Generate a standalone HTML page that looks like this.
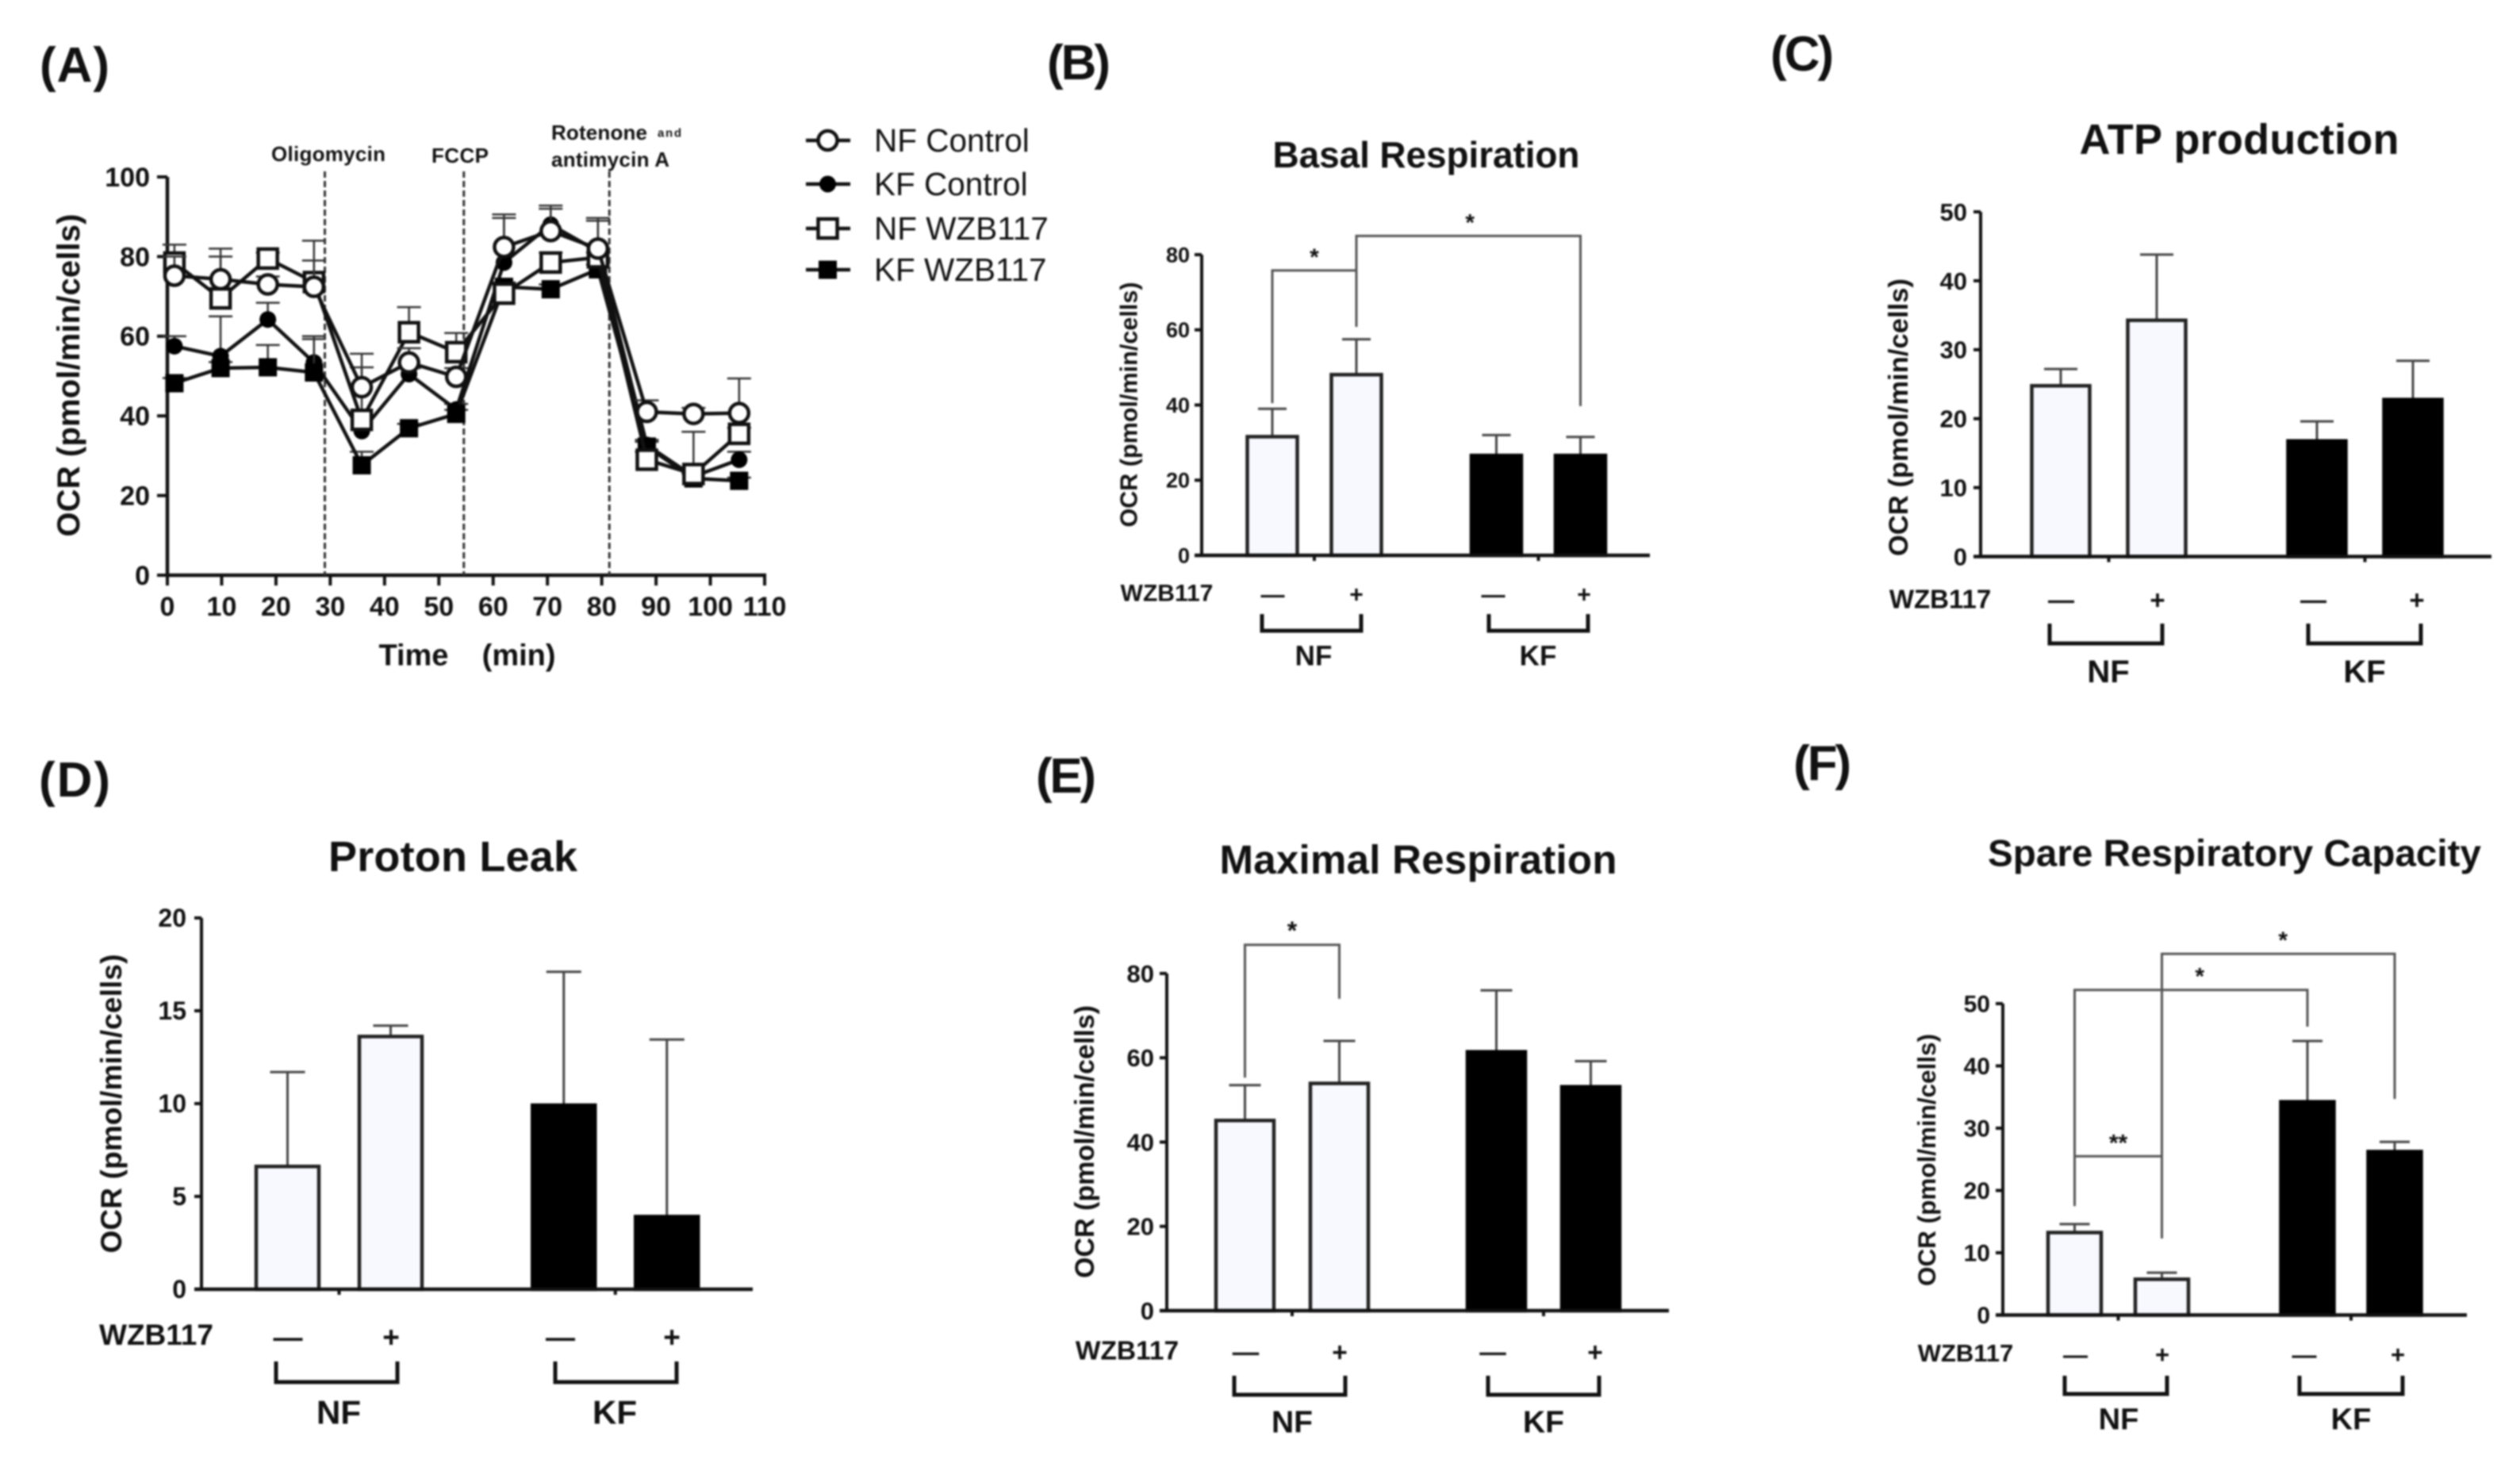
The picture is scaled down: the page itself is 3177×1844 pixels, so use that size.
<!DOCTYPE html>
<html lang="en">
<head>
<meta charset="utf-8">
<title>OCR respiration panels</title>
<style>
html,body{margin:0;padding:0;background:#fff;width:3177px;height:1844px;overflow:hidden}
svg{display:block;filter:blur(1px);font-family:"Liberation Sans",Arial,sans-serif}
text{fill:#111}
.b{font-weight:bold}
</style>
</head>
<body>
<svg id="fig" xmlns="http://www.w3.org/2000/svg" width="3177" height="1844" viewBox="0 0 3177 1844">
  <rect width="3177" height="1844" fill="#fff"/>
  <text class="b" x="50" y="103" font-size="62" textLength="88">(A)</text>
  <text class="b" x="1320" y="100" font-size="62" textLength="80">(B)</text>
  <text class="b" x="2232" y="89" font-size="62" textLength="80">(C)</text>
  <text class="b" x="49" y="1004" font-size="62" textLength="90">(D)</text>
  <text class="b" x="1306" y="999" font-size="62" textLength="76">(E)</text>
  <text class="b" x="2261" y="983" font-size="62" textLength="73">(F)</text>
  <g id="panelA"></g>
  <g id="legend"></g>
  <g id="bars"></g>
</svg>
<script>
/* ---------- Panel A data ---------- */
const timeMinutes = [1.3, 9.8, 18.5, 27, 35.8, 44.5, 53.2, 62, 70.6, 79.3, 88.3, 96.9, 105.3];
const nfControl = [75.2, 74.3, 73, 72.4, 47.2, 53.4, 49.8, 82.4, 86.4, 82, 41, 40.5, 40.7];
const kfControl = [57.5, 55, 64.2, 53.4, 36.2, 50.5, 41.6, 78.5, 88, 81.3, 32.7, 24.8, 29];
const nfWzb = [78.5, 69.5, 79.5, 73.6, 39, 61, 56, 70.7, 78.5, 79.8, 29, 25.4, 35.5];
const kfWzb = [48.2, 52, 52.2, 50.9, 27.6, 36.9, 40.5, 72.4, 71.8, 76.8, 32.3, 24.3, 23.7];
const nfControlTop = [80, 82, 75, 79, 55.6, 57, 52, 90.6, 92, 89, 43.9, 42, 49.4];
const kfControlTop = [60, 65, 68.4, 59.3, 40, 52, 43, 89.7, 92.8, 89.7, 34, 26, 31];
const nfWzbTop = [83, 80, 81, 84, 52.2, 67.3, 60.8, 73, 81, 81, 31, 36, 37];
const kfWzbTop = [49.5, 53.5, 57.8, 60, 31, 38, 41.5, 73.5, 73, 78, 33.5, 25.5, 24.5];
const timeTicks = [0, 10, 20, 30, 40, 50, 60, 70, 80, 90, 100, 110];
const ocrTicksA = [0, 20, 40, 60, 80, 100];
const injectionTimes = [29, 54.6, 81.4];

/* ---------- Bar panel data ---------- */
const barCategories = ["NF-", "NF+", "KF-", "KF+"];
const basalMeans = [32, 48.5, 27, 27];
const basalTops = [39, 57.5, 32, 31.5];
const basalTicks = [0, 20, 40, 60, 80];
const atpMeans = [25, 34.5, 17, 23];
const atpTops = [27.2, 43.8, 19.6, 28.4];
const atpTicks = [0, 10, 20, 30, 40, 50];
const leakMeans = [6.7, 13.7, 10, 4];
const leakTops = [11.7, 14.2, 17.1, 13.45];
const leakTicks = [0, 5, 10, 15, 20];
const maxMeans = [45.5, 54.3, 61.8, 53.5];
const maxTops = [53.5, 64, 76, 59.2];
const maxTicks = [0, 20, 40, 60, 80];
const spareMeans = [13.5, 6, 34.5, 26.5];
const spareTops = [14.6, 6.8, 44, 27.8];
const spareTicks = [0, 10, 20, 30, 40, 50];
/* significance: from bar, to bar, level, from-value, to-value, label */
const basalSig = [[0, 1, 75.8, 40.5, 72.4, "*"], [1, 3, 85, 60.8, 39.7, "*"]];
const atpSig = [];
const leakSig = [];
const maxSig = [[0, 1, 86.8, 55.3, 74, "*"]];
const spareSig = [[0, 2, 52.2, 17.5, 46.3, "*"], [1, 3, 58, 12.3, 34.7, "*"], [0, 1, 25.5, 17.5, 12.3, "**"]];

const SVGNS = "http://www.w3.org/2000/svg";
function line(parent, x1, y1, x2, y2, w, color) {
  const e = document.createElementNS(SVGNS, "line");
  e.setAttribute("x1", x1); e.setAttribute("y1", y1);
  e.setAttribute("x2", x2); e.setAttribute("y2", y2);
  e.setAttribute("stroke", color || "#111");
  e.setAttribute("stroke-width", w);
  parent.appendChild(e);
  return e;
}
function label(parent, str, x, y, size, anchor, bold, len) {
  const e = document.createElementNS(SVGNS, "text");
  e.textContent = str;
  e.setAttribute("x", x); e.setAttribute("y", y);
  e.setAttribute("font-size", size);
  e.setAttribute("text-anchor", anchor || "middle");
  e.setAttribute("dy", "0.35em");
  if (bold !== false) e.setAttribute("font-weight", "bold");
  if (len) e.setAttribute("textLength", len);
  parent.appendChild(e);
  return e;
}
function marker(parent, kind, cx, cy) {
  let e;
  if (kind === "circle-open" || kind === "circle-fill") {
    e = document.createElementNS(SVGNS, "circle");
    e.setAttribute("cx", cx); e.setAttribute("cy", cy);
    e.setAttribute("r", kind === "circle-open" ? 12 : 10.5);
  } else {
    const s = kind === "square-open" ? 24 : 23;
    e = document.createElementNS(SVGNS, "rect");
    e.setAttribute("x", cx - s / 2); e.setAttribute("y", cy - s / 2);
    e.setAttribute("width", s); e.setAttribute("height", s);
  }
  const open = kind.indexOf("open") >= 0;
  e.setAttribute("fill", open ? "#fff" : "#000");
  e.setAttribute("stroke", open ? "#111" : "none");
  e.setAttribute("stroke-width", open ? 4.5 : 0);
  parent.appendChild(e);
  return e;
}

/* ---------- Panel A ---------- */
(function () {
  const g = document.getElementById("panelA");
  const X = t => 211 + (t - 0) * (964 - 211) / 110;
  const Y = v => 725 - v * (725 - 223) / 100;
  ocrTicksA.forEach(v => {
    const t = line(g, 198, Y(v), 211, Y(v), 4);
    
    
    const l = label(g, String(v), 189, Y(v), 34, "end");
    
    
  });
  timeTicks.forEach(v => {
    const t = line(g, X(v), 725, X(v), 738, 4);
    
    
    const l = label(g, String(v), X(v), 764, 34);
    
    
  });
  const ya = line(g, X(0), Y(100), X(0), Y(0) + 2, 4.5);
  
  
  const xa = line(g, X(0) - 2, Y(0), X(110) + 2, Y(0), 4.5);
  
  
  const yt = label(g, "OCR (pmol/min/cells)", 0, 0, 40, "middle", true, 407);
  yt.setAttribute("transform", "translate(86 473) rotate(-90)");
  
  
  const xt = label(g, "Time    (min)", 589, 825, 38, "middle", true);
  xt.setAttribute("style", "white-space:pre");
  
  

  injectionTimes.forEach((t0, i) => {
    const d = line(g, X(t0), 216, X(t0), 725, 3, "#333");
    d.setAttribute("stroke-dasharray", "8 4");
    
    
  });
  const t1 = label(g, "Oligomycin", 414, 194, 26, "middle", true, 144);
  
  
  const t2 = label(g, "FCCP", 580, 196, 26, "middle", true, 72);
  
  
  const t3 = label(g, "Rotenone", 695, 167, 26, "start", true, 121);
  
  
  const t4 = label(g, "and", 829, 167, 15, "start", true, 30);
  
  
  const t5 = label(g, "antimycin A", 695, 201, 26, "start", true, 149);
  
  

  const series = [
    ["kf-control", kfControl, kfControlTop, "circle-fill"],
    ["kf-wzb117", kfWzb, kfWzbTop, "square-fill"],
    ["nf-wzb117", nfWzb, nfWzbTop, "square-open"],
    ["nf-control", nfControl, nfControlTop, "circle-open"]
  ];
  series.forEach(s => {
    const sg = document.createElementNS(SVGNS, "g");
    
    
    g.appendChild(sg);
    s[1].forEach((v, i) => {
      const cx = X(timeMinutes[i]);
      const eb = line(sg, cx, Y(v), cx, Y(s[2][i]), 2.5, "#333");
      
      
      const ec = line(sg, cx - 15, Y(s[2][i]), cx + 15, Y(s[2][i]), 2.5, "#333");
      
      
    });
    const pl = document.createElementNS(SVGNS, "polyline");
    pl.setAttribute("points", s[1].map((v, i) => X(timeMinutes[i]) + "," + Y(v)).join(" "));
    pl.setAttribute("fill", "none");
    pl.setAttribute("stroke", "#111");
    pl.setAttribute("stroke-width", 4.5);
    
    
    sg.appendChild(pl);
    s[1].forEach((v, i) => {
      const m = marker(sg, s[3], X(timeMinutes[i]), Y(v));
      
      
    });
  });
})();

/* ---------- Legend ---------- */
const legendNames = ["NF Control", "KF Control", "NF WZB117", "KF WZB117"];
const legendKinds = ["circle-open", "circle-fill", "square-open", "square-fill"];
(function () {
  const g = document.getElementById("legend");
  const rows = [177, 232, 288, 340];
  legendNames.forEach((n, i) => {
    const ln = line(g, 1016, rows[i], 1072, rows[i], 4.5);
    
    
    const m = marker(g, legendKinds[i], 1043.5, rows[i]);
    
    
    const t = label(g, n, 1102, rows[i], 40.5, "start", false);
    
    
  });
})();

/* ---------- Bar panels ---------- */
const panels = [
 {id:"basal", title:"Basal Respiration", means:basalMeans, tops:basalTops, ticks:basalTicks, sig:basalSig, starDx:[0,2],
  ax:1515, y0:700, yT:321, vMax:80, x1:2080, g:[1657,1939.5], hs:53, bw:67, cap:18,
  tCx:1798, tCy:195, tFs:46, tLen:387, yX:1423, yC:510, yFs:30.5, yLen:309, tkFs:27, tkGap:15,
  wX:1471, wY:747, wFs:30, mY:749, mX:[1604.5,1710,1882.5,1997], br:[[1591,1716],[1877,2002]], brY:[774,795], gY:826, gFs:35, gX:[1656,1939], starFs:30},
 {id:"atp", title:"ATP production", means:atpMeans, tops:atpTops, ticks:atpTicks, sig:atpSig, starDx:[],
  ax:2497, y0:701.5, yT:267, vMax:50, x1:3141, g:[2658.5,2981.5], hs:60.5, bw:77, cap:21,
  tCx:2823, tCy:175, tFs:54, tLen:403, yX:2393, yC:526, yFs:34.5, yLen:350, tkFs:31, tkGap:17,
  wX:2446, wY:755, wFs:33, mY:756, mX:[2598.5,2720,2916.5,3047], br:[[2584,2726],[2910,3052]], brY:[786,811], gY:846, gFs:40, gX:[2658,2981], starFs:30},
 {id:"leak", title:"Proton Leak", means:leakMeans, tops:leakTops, ticks:leakTicks, sig:leakSig, starDx:[],
  ax:254, y0:1625, yT:1157, vMax:20, x1:949, g:[427.5,775.75], hs:65, bw:83, cap:22,
  tCx:571, tCy:1079, tFs:54, tLen:314, yX:140, yC:1391, yFs:37, yLen:377, tkFs:32, tkGap:19,
  wX:197, wY:1682, wFs:37, mY:1685, mX:[363,493,706.5,847], br:[[348,501],[700,853]], brY:[1716,1742], gY:1780, gFs:42, gX:[427,775], starFs:30},
 {id:"maximal", title:"Maximal Respiration", means:maxMeans, tops:maxTops, ticks:maxTicks, sig:maxSig, starDx:[0],
  ax:1471, y0:1652, yT:1227, vMax:80, x1:2104, g:[1629,1946], hs:59.5, bw:77, cap:20,
  tCx:1788, tCy:1083, tFs:51, tLen:501, yX:1367, yC:1439, yFs:34, yLen:344, tkFs:31, tkGap:16,
  wX:1421, wY:1702, wFs:33.5, mY:1704, mX:[1570.5,1689,1882,2011], br:[[1556,1696],[1876,2016]], brY:[1734,1758], gY:1792, gFs:39, gX:[1629,1946], starFs:32},
 {id:"spare", title:"Spare Respiratory Capacity", means:spareMeans, tops:spareTops, ticks:spareTicks, sig:spareSig, starDx:[11,6,0],
  ax:2525, y0:1657.5, yT:1265, vMax:50, x1:3110, g:[2670.5,2964], hs:55, bw:71, cap:19,
  tCx:2817, tCy:1075, tFs:47.6, tLen:622, yX:2429, yC:1462, yFs:31.5, yLen:318, tkFs:30, tkGap:16,
  wX:2478, wY:1705, wFs:31, mY:1707, mX:[2616.5,2726,2905,3023], br:[[2603,2732],[2899,3029]], brY:[1734,1757], gY:1788, gFs:38, gX:[2671,2964], starFs:30}
];

panels.forEach(p => {
  const root = document.getElementById("bars");
  const g = document.createElementNS(SVGNS, "g");
  
  
  root.appendChild(g);
  const Y = v => p.y0 - v * (p.y0 - p.yT) / p.vMax;
  const X = i => p.g[i < 2 ? 0 : 1] + (i % 2 === 0 ? -p.hs : p.hs);

  const tt = label(g, p.title, p.tCx, p.tCy, p.tFs, "middle", true, p.tLen);
  
  
  const yl = label(g, "OCR (pmol/min/cells)", 0, 0, p.yFs, "middle", true, p.yLen);
  yl.setAttribute("transform", "translate(" + p.yX + " " + p.yC + ") rotate(-90)");
  
  

  p.ticks.forEach(v => {
    const t = line(g, p.ax - 9, Y(v), p.ax, Y(v), 4);
    
    
    const l = label(g, String(v), p.ax - p.tkGap, Y(v), p.tkFs, "end");
    
    
  });

  p.means.forEach((v, i) => {
    const dark = i >= 2;
    const cx = X(i);
    const eb = line(g, cx, Y(v), cx, Y(p.tops[i]), 3, "#444");
    
    
    const ec = line(g, cx - p.cap, Y(p.tops[i]), cx + p.cap, Y(p.tops[i]), 3, "#444");
    
    
    const r = document.createElementNS(SVGNS, "rect");
    r.setAttribute("x", cx - p.bw / 2 + 2);
    r.setAttribute("y", Y(v) + 2);
    r.setAttribute("width", p.bw - 4);
    r.setAttribute("height", p.y0 - Y(v) - 2);
    r.setAttribute("fill", dark ? "#000" : "#f8f9ff");
    r.setAttribute("stroke", dark ? "#000" : "#222");
    r.setAttribute("stroke-width", 4.5);
    
    
    g.appendChild(r);
  });

  const ya = line(g, p.ax, p.yT, p.ax, p.y0 + 2, 4);
  
  
  const xa = line(g, p.ax - 9, p.y0, p.x1, p.y0, 4.5);
  
  
  p.g.forEach(c => {
    const t = line(g, c, p.y0, c, p.y0 + 7, 4);
    
    
  });

  p.sig.forEach((s, k) => {
    const xa2 = X(s[0]), xb = X(s[1]);
    const pl = document.createElementNS(SVGNS, "polyline");
    pl.setAttribute("points", xa2 + "," + Y(s[3]) + " " + xa2 + "," + Y(s[2]) + " " + xb + "," + Y(s[2]) + " " + xb + "," + Y(s[4]));
    pl.setAttribute("fill", "none");
    pl.setAttribute("stroke", "#555");
    pl.setAttribute("stroke-width", 3);
    
    
    g.appendChild(pl);
    const st = document.createElementNS(SVGNS, "text");
    st.textContent = s[5];
    st.setAttribute("x", (xa2 + xb) / 2 + (p.starDx[k] || 0));
    st.setAttribute("y", Y(s[2]) - 7);
    st.setAttribute("font-size", p.starFs);
    st.setAttribute("font-weight", "bold");
    st.setAttribute("text-anchor", "middle");
    
    
    g.appendChild(st);
  });

  const wz = label(g, "WZB117", p.wX, p.wY, p.wFs);
  
  
  p.mX.forEach((mx, i) => {
    const m = label(g, i % 2 === 0 ? "\u2014" : "+", mx, p.mY, p.wFs);
    
    
  });
  p.br.forEach((b, i) => {
    const pl = document.createElementNS(SVGNS, "polyline");
    pl.setAttribute("points", b[0] + "," + p.brY[0] + " " + b[0] + "," + p.brY[1] + " " + b[1] + "," + p.brY[1] + " " + b[1] + "," + p.brY[0]);
    pl.setAttribute("fill", "none");
    pl.setAttribute("stroke", "#111");
    pl.setAttribute("stroke-width", 5);
    
    
    g.appendChild(pl);
    const gl = label(g, i === 0 ? "NF" : "KF", p.gX[i], p.gY, p.gFs);
    
    
  });
});
</script>
</body>
</html>
